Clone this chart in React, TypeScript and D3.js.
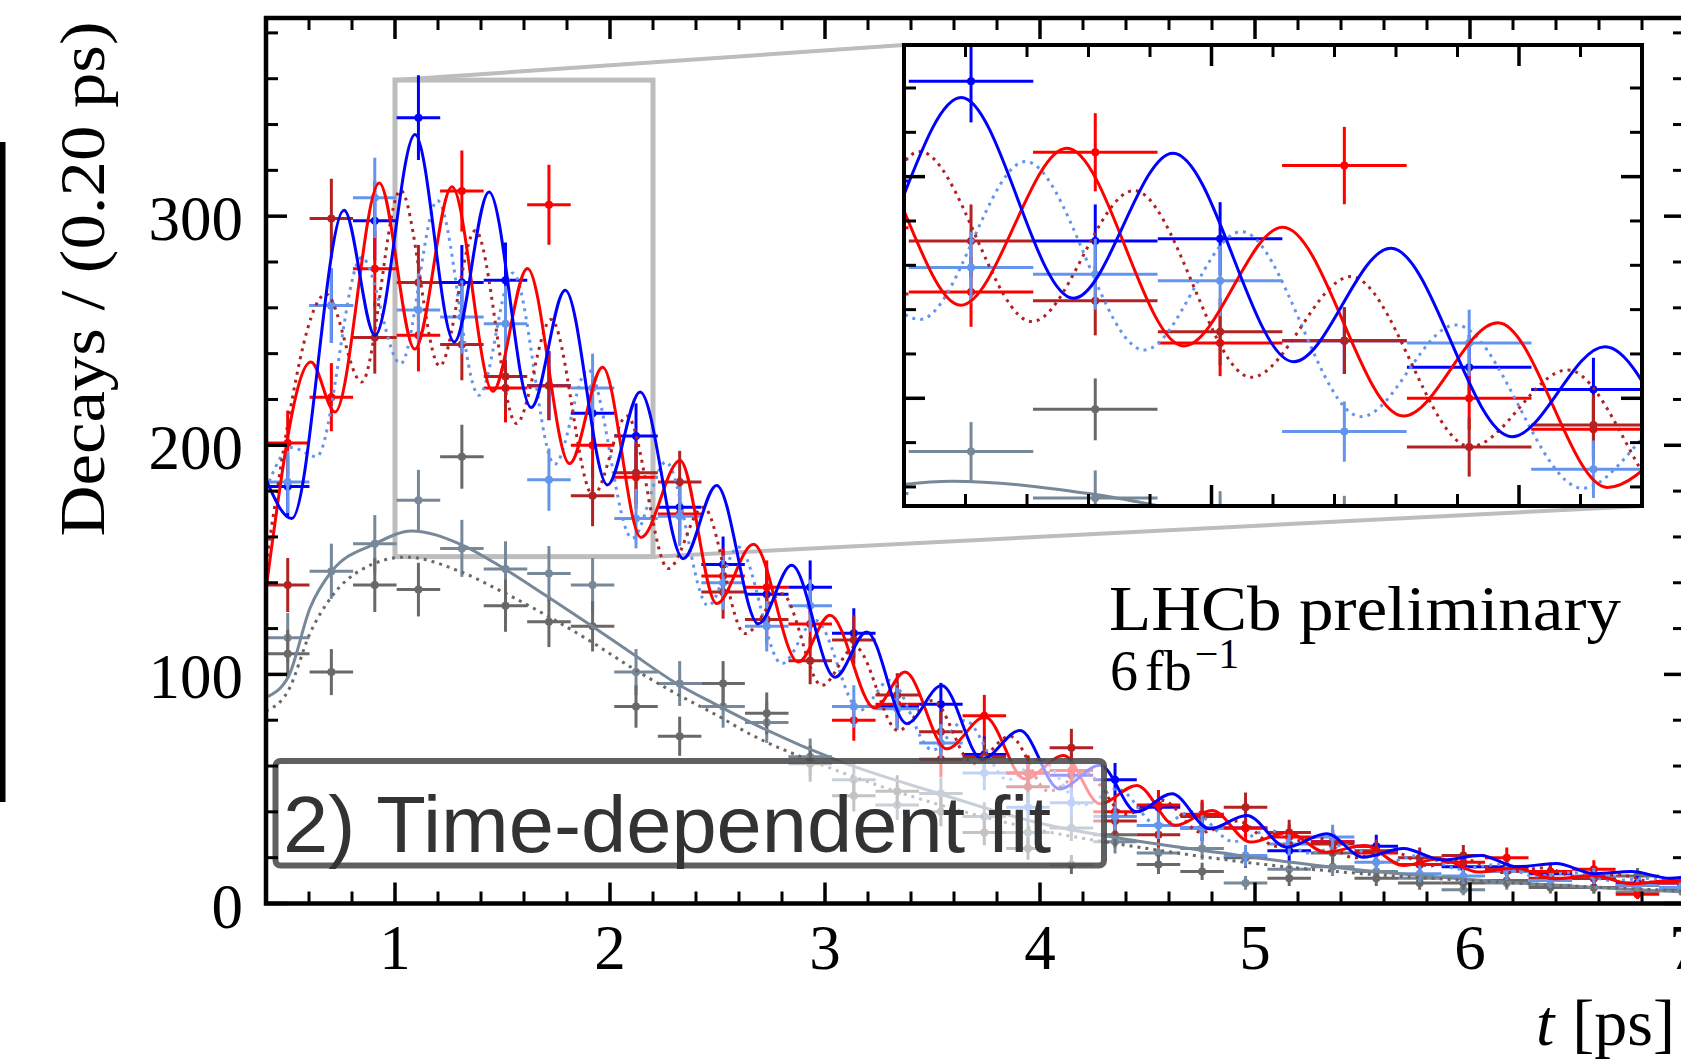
import React from 'react';
import * as d3 from 'd3';

// ---------- data ----------
const tCenters = [0.501, 0.704, 0.906, 1.109, 1.311, 1.514, 1.716, 1.919, 2.121, 2.324, 2.526, 2.729, 2.931, 3.134, 3.336, 3.539, 3.741, 3.944, 4.146, 4.349, 4.551, 4.754, 4.956, 5.159, 5.361, 5.564, 5.766, 5.969, 6.171, 6.374, 6.576, 6.779, 6.981];
const halfBin = 0.10125;

const blueCounts = [182, 261, 298, 343, 271, 272, 226, 214, 204, 173, 148, 135, 138, 118, 86, 87, 65, 57, 56, 54, 42, 33, 33, 23, 27, 25, 17, 16, 16, 13, 11, 9, 9];
const redCounts = [201, 221, 277, 248, 311, 225, 305, 200, 186, 170, 143, 138, 122, 80, 87, 63, 82, 57, 58, 40, 43, 39, 33, 29, 27, 22, 17, 18, 20, 14, 15, 4, 9];
const brownCounts = [139, 299, 247, 271, 244, 230, 226, 178, 188, 184, 136, 124, 106, 115, 91, 75, 64, 51, 68, 36, 30, 38, 42, 31, 26, 23, 20, 21, 15, 11, 11, 8, 7];
const lightCounts = [184, 261, 308, 259, 256, 253, 185, 225, 168, 169, 140, 121, 130, 86, 85, 70, 57, 42, 44, 38, 34, 33, 21, 26, 29, 18, 13, 12, 14, 10, 12, 8, 7];
const slateCounts = [116, 145, 157, 176, 155, 146, 144, 139, 101, 96, 86, 79, 64, 54, 43, 48, 38, 31, 33, 27, 22, 24, 9, 15, 16, 14, 11, 6, 9, 8, 7, 5, 6];
const dimCounts = [109, 101, 139, 137, 195, 130, 123, 121, 86, 73, 96, 83, 61, 47, 49, 40, 31, 24, 17, 30, 17, 14, 20, 11, 22, 11, 9, 9, 10, 7, 7, 12, 6];

// fit curves: extrema / support points
const blueFitT = [0.40, 0.52, 0.763, 0.907, 1.093, 1.2755, 1.4374, 1.6335, 1.7916, 1.9885, 2.140, 2.341, 2.496, 2.69, 2.845, 3.047, 3.194, 3.38, 3.543, 3.73, 3.907, 4.09, 4.279, 4.45, 4.613, 4.79, 4.961, 5.147, 5.333, 5.504, 5.69, 5.87, 6.05, 6.22, 6.40, 6.58, 6.75, 6.93, 7.0];
const blueFitV = [185, 168, 302.6, 248, 335.7, 245.1, 310.6, 216.5, 267.7, 182.7, 223.3, 150.5, 182.5, 122.1, 147.6, 98.8, 118.5, 78.5, 95.2, 63, 75.5, 50, 60.3, 40, 47.9, 32.6, 38.4, 24.6, 30.4, 20.2, 24, 19, 21, 16, 17.5, 13, 14, 11, 11.5];

const redFitT = [0.40, 0.609, 0.721, 0.927, 1.092, 1.265, 1.455, 1.616, 1.812, 1.9657, 2.144, 2.326, 2.496, 2.667, 2.876, 3.023, 3.232, 3.372, 3.566, 3.744, 3.93, 4.11, 4.28, 4.45, 4.63, 4.80, 4.98, 5.15, 5.33, 5.51, 5.69, 5.86, 6.04, 6.21, 6.39, 6.57, 6.75, 6.93, 7.0];
const redFitV = [137, 236.4, 214.5, 314.5, 242, 312.8, 223.6, 277.2, 192.0, 234.1, 159.8, 193.4, 130.9, 156.8, 105.4, 125.8, 85.3, 101, 67.5, 81.4, 54.4, 64.6, 43.5, 51.5, 34.1, 40.6, 26.8, 31, 22.4, 25.3, 16.6, 19.5, 13.7, 15.5, 10.8, 12.2, 8.6, 10, 9.8];

const brownFitT = [0.40, 0.68, 0.845, 1.026, 1.208, 1.374, 1.5647, 1.7267, 1.921, 2.079, 2.271, 2.434, 2.628, 2.799, 2.985, 3.14, 3.34, 3.50, 3.69, 3.86, 4.04, 4.21, 4.40, 4.57, 4.75, 4.92, 5.10, 5.28, 5.46, 5.63, 5.81, 5.98, 6.16, 6.34, 6.52, 6.69, 6.87, 7.0];
const brownFitV = [148, 266, 227.6, 311.3, 234.6, 293.7, 209.5, 254.9, 178.2, 212.8, 146.2, 173, 117.8, 135.2, 95.2, 112, 75.5, 88.6, 61, 73, 49, 57, 39, 45, 31, 36, 25, 29, 20, 23, 16.5, 19, 13.5, 15.5, 11, 12.5, 9, 10];

const lightFitT = [0.40, 0.52, 0.635, 0.845, 1.026, 1.1977, 1.3904, 1.5485, 1.743, 1.897, 2.1034, 2.26, 2.457, 2.597, 2.799, 2.955, 3.163, 3.30, 3.50, 3.65, 3.85, 4.0, 4.2, 4.36, 4.55, 4.71, 4.90, 5.07, 5.25, 5.42, 5.60, 5.77, 5.95, 6.13, 6.30, 6.48, 6.66, 6.84, 7.0];
const lightFitV = [181, 199, 195, 282, 235.6, 306.8, 221.8, 275.2, 191.7, 233.1, 159.4, 192.7, 130, 155.6, 104.7, 123.6, 84.3, 97.4, 67, 79.9, 54, 63, 43, 50, 34, 40, 27, 32, 22, 25.5, 18, 21, 15, 17, 12, 13.5, 10, 11, 9.5];

const slateFitT = [0.40, 0.504, 0.605, 0.706, 0.907, 1.078, 1.3, 1.5, 1.7, 1.9, 2.1, 2.3, 2.5, 2.7, 3.07, 3.53, 4.0, 4.4, 4.85, 5.3, 5.77, 6.3, 7.0];
const slateFitV = [90, 99, 129, 145, 157, 162.6, 157, 146.6, 134.5, 122.1, 109.3, 96.6, 86.5, 77, 62, 48, 35, 28, 22, 16.5, 12.2, 8.5, 5];

const dimFitT = [0.40, 0.504, 0.605, 0.706, 0.85, 1.05, 1.3, 1.5, 1.7, 1.9, 2.1, 2.3, 2.5, 2.65, 3.0, 3.5, 4.0, 4.5, 5.0, 5.5, 6.0, 6.5, 7.0];
const dimFitV = [84, 93, 118, 134, 146, 151.2, 145, 136, 126, 115, 103, 92, 82, 74, 60, 44, 32, 24, 17.5, 13, 10, 7.5, 5.5];

const xTickLabels = [1, 2, 3, 4, 5, 6, 7];
const yTickLabels = [0, 100, 200, 300];

const COLORS = {
  blue: '#0000ff',
  red: '#ff0000',
  brown: '#b22222',
  light: '#6495ed',
  slate: '#778899',
  dim: '#696969',
};

const pointSeries = [
  { key: 'slate', counts: slateCounts, color: COLORS.slate },
  { key: 'dim', counts: dimCounts, color: COLORS.dim },
  { key: 'blue', counts: blueCounts, color: COLORS.blue },
  { key: 'red', counts: redCounts, color: COLORS.red },
  { key: 'brown', counts: brownCounts, color: COLORS.brown },
  { key: 'light', counts: lightCounts, color: COLORS.light },
];

const curveSeries = [
  { key: 'slate', t: slateFitT, v: slateFitV, color: COLORS.slate, dotted: false },
  { key: 'dim', t: dimFitT, v: dimFitV, color: COLORS.dim, dotted: true },
  { key: 'light', t: lightFitT, v: lightFitV, color: COLORS.light, dotted: true },
  { key: 'brown', t: brownFitT, v: brownFitV, color: COLORS.brown, dotted: true },
  { key: 'red', t: redFitT, v: redFitV, color: COLORS.red, dotted: false },
  { key: 'blue', t: blueFitT, v: blueFitV, color: COLORS.blue, dotted: false },
];

const SERIF = "'Liberation Serif', 'DejaVu Serif', serif";
const SANS = "'Liberation Sans', Arial, 'DejaVu Sans', sans-serif";

type Scale = d3.ScaleLinear<number, number>;

function Points({ xs, ys, prefix }: { xs: Scale; ys: Scale; prefix: string }) {
  return (
    <g>
      {pointSeries.map((s) => (
        <g key={prefix + s.key}>
          {s.counts.map((v, i) => {
            const t = tCenters[i];
            const e = Math.sqrt(v);
            return (
              <g key={i}>
                <line x1={xs(t - halfBin)} x2={xs(t + halfBin)} y1={ys(v)} y2={ys(v)} stroke={s.color} strokeWidth={3} />
                <line x1={xs(t)} x2={xs(t)} y1={ys(v - e)} y2={ys(v + e)} stroke={s.color} strokeWidth={3} />
                <circle cx={xs(t)} cy={ys(v)} r={4} fill={s.color} />
              </g>
            );
          })}
        </g>
      ))}
    </g>
  );
}

function Curves({ xs, ys, prefix }: { xs: Scale; ys: Scale; prefix: string }) {
  return (
    <g>
      {curveSeries.map((c) => {
        const line = d3
          .line<number>()
          .x((_, i) => xs(c.t[i]))
          .y((v) => ys(v))
          .curve(d3.curveMonotoneX);
        return (
          <path
            key={prefix + c.key}
            d={line(c.v) || ''}
            fill="none"
            stroke={c.color}
            strokeWidth={3}
            strokeDasharray={c.dotted ? '3 5' : undefined}
          />
        );
      })}
    </g>
  );
}

export default function App() {
  const L = 266, R = 1685, T = 18, B = 903.5;
  const x = d3.scaleLinear().domain([0.4, 7.0]).range([L, R]);
  const y = d3.scaleLinear().domain([0, 386.5]).range([B, T]);

  const IL = 904, IR = 1642, IT = 45, IB = 506;
  const xi = d3.scaleLinear().domain([1.0, 2.2]).range([IL, IR]);
  const yi = d3.scaleLinear().domain([151.4, 359.4]).range([IB, IT]);

  const majLen = 21, minLen = 12;

  const xMinor = d3.range(3, 35).map((i) => i * 0.2).filter((t) => Math.abs(t - Math.round(t)) > 1e-6);
  const yMinor = d3.range(0, 387, 20).filter((v) => v % 100 !== 0);
  const yMajor = yTickLabels;
  const xMajor = xTickLabels.filter((t) => t < 7);

  const xiMinor = d3.range(11, 22).map((i) => i / 10).filter((t) => Math.abs(t * 2 - Math.round(t * 2)) > 1e-6);
  const xiMajor = [1.5, 2.0];
  const yiMinor = [160, 180, 220, 240, 260, 280, 320, 340];
  const yiMajor = [200, 300];

  return (
    <svg width={1681} height={1060} style={{ position: 'absolute', left: 0, top: 0, background: '#fff' }}>
      <defs>
        <clipPath id="mainClip">
          <rect x={L} y={T} width={R - L} height={B - T} />
        </clipPath>
        <clipPath id="insetClip">
          <rect x={IL} y={IT} width={IR - IL} height={IB - IT} />
        </clipPath>
      </defs>
      <rect x={0} y={0} width={1681} height={1060} fill="#fff" />

      {/* stray bar at the left edge */}
      <rect x={0} y={142} width={5.5} height={660} fill="#000" />

      {/* zoom rectangle and connectors */}
      <rect x={x(1.0)} y={y(359.4)} width={x(2.2) - x(1.0)} height={y(151.4) - y(359.4)} fill="none" stroke="#bdbdbd" strokeWidth={5} />
      <line x1={x(1.0)} y1={y(359.4)} x2={IL} y2={IT} stroke="#bdbdbd" strokeWidth={4} />
      <line x1={x(2.2)} y1={y(151.4)} x2={IR} y2={IB} stroke="#bdbdbd" strokeWidth={4} />

      <g clipPath="url(#mainClip)">
        <Points xs={x} ys={y} prefix="m" />
        <Curves xs={x} ys={y} prefix="m" />
      </g>

      {/* label box */}
      <rect x={275.5} y={761} width={828.5} height={104.5} rx={5} fill="#fff" fillOpacity={0.6} stroke="#4a4a4a" strokeOpacity={0.88} strokeWidth={6} />
      <text x={283} y={852} fontFamily={SANS} fontSize={80} textLength={768} lengthAdjust="spacingAndGlyphs" fill="#333">2) Time-dependent fit</text>

      {/* inset */}
      <rect x={IL} y={IT} width={IR - IL} height={IB - IT} fill="#fff" />
      <g clipPath="url(#insetClip)">
        <Points xs={xi} ys={yi} prefix="i" />
        <Curves xs={xi} ys={yi} prefix="i" />
      </g>
      <g stroke="#000">
        {xiMinor.map((t) => (
          <g key={'xim' + t}>
            <line x1={xi(t)} x2={xi(t)} y1={IB} y2={IB - minLen} strokeWidth={3} />
            <line x1={xi(t)} x2={xi(t)} y1={IT} y2={IT + minLen} strokeWidth={3} />
          </g>
        ))}
        {xiMajor.map((t) => (
          <g key={'xiM' + t}>
            <line x1={xi(t)} x2={xi(t)} y1={IB} y2={IB - majLen} strokeWidth={3.5} />
            <line x1={xi(t)} x2={xi(t)} y1={IT} y2={IT + majLen} strokeWidth={3.5} />
          </g>
        ))}
        {yiMinor.map((v) => (
          <g key={'yim' + v}>
            <line x1={IL} x2={IL + minLen} y1={yi(v)} y2={yi(v)} strokeWidth={3} />
            <line x1={IR} x2={IR - minLen} y1={yi(v)} y2={yi(v)} strokeWidth={3} />
          </g>
        ))}
        {yiMajor.map((v) => (
          <g key={'yiM' + v}>
            <line x1={IL} x2={IL + majLen} y1={yi(v)} y2={yi(v)} strokeWidth={3.5} />
            <line x1={IR} x2={IR - majLen} y1={yi(v)} y2={yi(v)} strokeWidth={3.5} />
          </g>
        ))}
      </g>
      <rect x={IL} y={IT} width={IR - IL} height={IB - IT} fill="none" stroke="#000" strokeWidth={4} />

      {/* LHCb label */}
      <text x={1109} y={630} fontFamily={SERIF} fontSize={64} textLength={512} lengthAdjust="spacingAndGlyphs" fill="#000">LHCb preliminary</text>
      <text x={1110} y={690} fontFamily={SERIF} fontSize={56} fill="#000">
        6<tspan dx={7}>fb</tspan>
        <tspan dx={3} dy={-22} fontSize={42}>−1</tspan>
      </text>

      {/* main frame ticks */}
      <g stroke="#000">
        {xMinor.map((t) => (
          <g key={'xm' + t}>
            <line x1={x(t)} x2={x(t)} y1={B} y2={B - minLen} strokeWidth={3} />
            <line x1={x(t)} x2={x(t)} y1={T} y2={T + minLen} strokeWidth={3} />
          </g>
        ))}
        {xMajor.map((t) => (
          <g key={'xM' + t}>
            <line x1={x(t)} x2={x(t)} y1={B} y2={B - majLen} strokeWidth={3.5} />
            <line x1={x(t)} x2={x(t)} y1={T} y2={T + majLen} strokeWidth={3.5} />
          </g>
        ))}
        {yMinor.map((v) => (
          <g key={'ym' + v}>
            <line x1={L} x2={L + minLen} y1={y(v)} y2={y(v)} strokeWidth={3} />
            <line x1={R} x2={R - minLen} y1={y(v)} y2={y(v)} strokeWidth={3} />
          </g>
        ))}
        {yMajor.map((v) => (
          <g key={'yM' + v}>
            <line x1={L} x2={L + majLen} y1={y(v)} y2={y(v)} strokeWidth={3.5} />
            <line x1={R} x2={R - majLen} y1={y(v)} y2={y(v)} strokeWidth={3.5} />
          </g>
        ))}
      </g>
      <rect x={L} y={T} width={R - L} height={B - T} fill="none" stroke="#000" strokeWidth={4.5} />

      {/* tick labels */}
      {yTickLabels.map((v) => (
        <text key={'yl' + v} x={243} y={y(v) + 24} textAnchor="end" fontFamily={SERIF} fontSize={63} fill="#000">{v}</text>
      ))}
      {xTickLabels.map((t) => (
        <text key={'xl' + t} x={x(t)} y={969} textAnchor="middle" fontFamily={SERIF} fontSize={63} fill="#000">{t}</text>
      ))}

      {/* axis titles */}
      <text transform="translate(104,279) rotate(-90)" textAnchor="middle" fontFamily={SERIF} fontSize={63} textLength={515} lengthAdjust="spacingAndGlyphs" fill="#000">Decays / (0.20 ps)</text>
      <text x={1536} y={1045} fontFamily={SERIF} fontSize={66} fill="#000">
        <tspan fontStyle="italic">t</tspan>
        <tspan dx={18}>[ps]</tspan>
      </text>
    </svg>
  );
}
